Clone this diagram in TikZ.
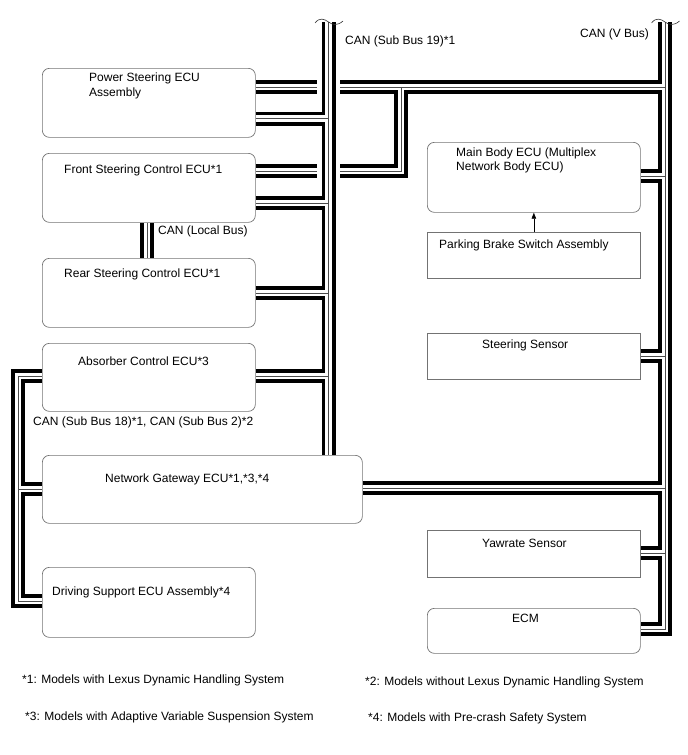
\documentclass[tikz,border=0pt]{standalone}
\usepackage{fontspec}
\setmainfont{Liberation Sans}
\usetikzlibrary{arrows.meta,backgrounds}
\tikzset{
  ecu/.style={draw=black!55, line width=0.7pt, rounded corners=7pt, anchor=north west,
              minimum width=213pt, inner sep=0pt},
  sensor/.style={ecu, sharp corners},
  txt/.style={font=\fontsize{12}{14.5}\selectfont, inner sep=0pt, anchor=base west, align=left},
  cable/.style={draw=black!70, line width=0.6pt,
              preaction={draw=black, line width=14pt},
              preaction={draw=white, line width=6.4pt}},
  brk/.style={draw=black!80, line width=0.6pt},
  sig/.style={-{Triangle[length=6pt,width=4.5pt]}, line width=0.6pt},
}
\begin{document}
\begin{tikzpicture}[x=1pt,y=-1pt]
\useasboundingbox (0,0) rectangle (688,755);
% left column
\node[ecu,minimum height=69pt] (ps) at (42,68) {};
\node[ecu,minimum height=69pt] (fs) at (42,153) {};
\node[ecu,minimum height=69pt] (rs) at (42,258) {};
\node[ecu,minimum height=68pt] (ab) at (42,343) {};
\node[ecu,minimum height=68pt,minimum width=320pt] (gw) at (42,455) {};
\node[ecu,minimum height=70pt] (ds) at (42,567) {};
% right column
\node[ecu,minimum height=70pt] (mb) at (427,142) {};
\node[sensor,minimum height=46pt] (pb) at (427,232) {};
\node[sensor,minimum height=46pt] (ss) at (427,333) {};
\node[sensor,minimum height=47pt] (ys) at (427,530) {};
\node[ecu,minimum height=45pt] (ecm) at (427,608) {};

\node[txt,anchor=north west] (psT) at (89,73) {Power Steering ECU\\Assembly};
\node[txt] (fsT) at (64,173) {Front Steering Control ECU*1};
\node[txt] (rsT) at (64,277) {Rear Steering Control ECU*1};
\node[txt] (abT) at (78,365) {Absorber Control ECU*3};
\node[txt] (gwT) at (105,482) {Network Gateway ECU*1,*3,*4};
\node[txt] (dsT) at (52,595) {Driving Support ECU Assembly*4};
\node[txt,anchor=north west] (mbT) at (456,147.5) {Main Body ECU (Multiplex\\Network Body ECU)};
\node[txt] (pbT) at (439,248) {Parking Brake Switch Assembly};
\node[txt] (ssT) at (482,348) {Steering Sensor};
\node[txt] (ysT) at (482,547) {Yawrate Sensor};
\node[txt] (ecmT) at (512,622) {ECM};

% bus names
\node[txt] (lSub19) at (345,44) {CAN (Sub Bus 19)*1};
\node[txt] (lVbus) at (580,37) {CAN (V Bus)};
\node[txt] (lLocal) at (158,234) {CAN (Local Bus)};
\node[txt] (lSub18) at (33,425) {CAN (Sub Bus 18)*1, CAN (Sub Bus 2)*2};

% notes
\node[txt] (n1) at (22,683) {*1: Models with Lexus Dynamic Handling System};
\node[txt] (n2) at (365,685) {*2: Models without Lexus Dynamic Handling System};
\node[txt] (n3) at (25,720) {*3: Models with Adaptive Variable Suspension System};
\node[txt] (n4) at (368,721) {*4: Models with Pre-crash Safety System};

\coordinate (subtop) at (328.5,22);
\coordinate (vtop) at (665,22);
\coordinate (vjog) at (401,0);
\coordinate (sbl) at (18,0);
\coordinate (lb) at (147,0);
\coordinate (psV) at ([yshift=-19pt]ps.north east);
\coordinate (psS) at ([yshift=-50.5pt]ps.north east);
\coordinate (fsV) at ([yshift=-18pt]fs.north east);
\coordinate (fsS) at ([yshift=-50pt]fs.north east);
\coordinate (rsS) at ([yshift=-35pt]rs.north east);
\coordinate (abS) at ([yshift=-33pt]ab.north east);
\coordinate (abL) at ([yshift=-33pt]ab.north west);
\coordinate (gwL) at ([yshift=-34pt]gw.north west);
\coordinate (gwV) at ([yshift=-33pt]gw.north east);
\coordinate (dsL) at ([yshift=-34pt]ds.north west);
\coordinate (mbV) at ([yshift=-34pt]mb.north east);
\coordinate (ssV) at ([yshift=-23pt]ss.north east);
\coordinate (ysV) at ([yshift=-23pt]ys.north east);
\coordinate (ecmV) at ([yshift=-21pt]ecm.north east);

\begin{scope}[on background layer]
% V bus
\draw[cable] (vtop) |- (ecmV)
  (psV) -- (psV -| vtop)
  (fsV) -| (vjog |- psV)
  (mbV) -- (mbV -| vtop)
  (ssV) -- (ssV -| vtop)
  (gwV) -- (gwV -| vtop)
  (ysV) -- (ysV -| vtop);
% V bus passes under the sub bus
\draw[white, line width=23pt] (subtop) -- (subtop |- gw.north);
% sub bus 19
\draw[cable] (subtop) -- (subtop |- gw.north)
  (psS) -- (psS -| subtop)
  (fsS) -- (fsS -| subtop)
  (rsS) -- (rsS -| subtop)
  (abS) -- (abS -| subtop);
% sub bus 18 / 2
\draw[cable] (abL) -| (sbl |- dsL) -- (dsL)
  (gwL) -- (gwL -| sbl);
% local bus
\draw[cable] (lb |- fs.south) -- (lb |- rs.north);
\end{scope}

\foreach \t in {subtop,vtop}
  \draw[brk,shift={(\t)}] (-13.5,1) .. controls (-9,-5) and (-4,-3) .. (0,0) .. controls (4,3) and (9,4) .. (14.5,-1);

\draw[sig] (pb.north) -- (mb.south);
\end{tikzpicture}
\end{document}
